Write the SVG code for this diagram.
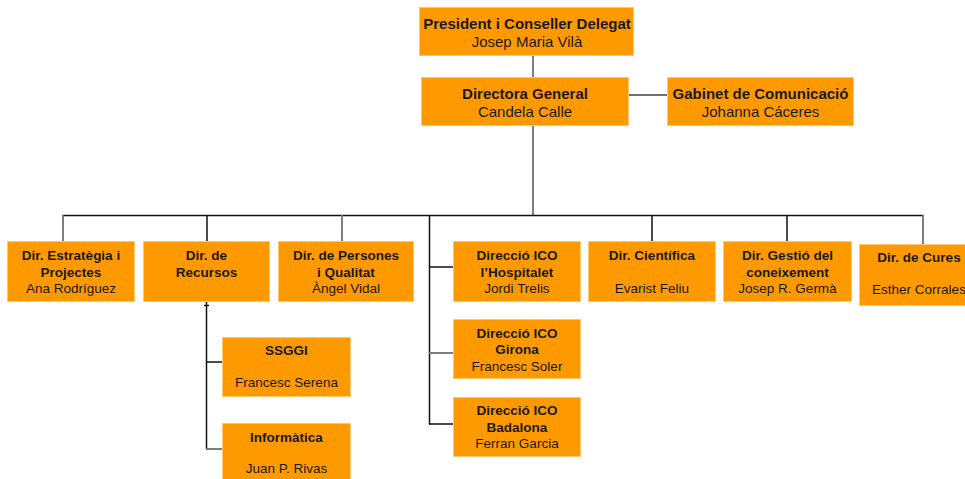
<svg xmlns="http://www.w3.org/2000/svg" width="965" height="479" viewBox="0 0 965 479">
<style>
.box{fill:#FF9900;stroke:#FFC870;stroke-width:1}
text{font-family:"Liberation Sans",Arial,sans-serif;fill:#1a1a1a;text-anchor:middle}
.t{font-size:15px}
.s{font-size:13.5px}
.b{font-weight:bold}
.k{stroke:#111;stroke-width:1.5;fill:none}
.g{stroke:#707070;stroke-width:1.8;fill:none}
</style>
<rect width="965" height="479" fill="#fff"/>
<g id="connectors">
<line class="g" x1="533" y1="56" x2="533" y2="77"/>
<line class="g" x1="629" y1="95" x2="667" y2="95"/>
<line class="g" x1="533" y1="126" x2="533" y2="215"/>
<line class="k" x1="62.5" y1="215.5" x2="923.5" y2="215.5"/>
<line class="g" x1="63" y1="215" x2="63" y2="241"/>
<line class="k" x1="207" y1="215" x2="207" y2="241"/>
<line class="g" x1="342" y1="215" x2="342" y2="241"/>
<line class="k" x1="652" y1="215" x2="652" y2="241"/>
<line class="k" x1="787" y1="215" x2="787" y2="241"/>
<line class="g" x1="923" y1="215" x2="923" y2="244"/>
<line class="k" x1="429.5" y1="215" x2="429.5" y2="424.5"/>
<line class="k" x1="429" y1="267" x2="453" y2="267"/>
<line class="g" x1="429" y1="353" x2="453" y2="353"/>
<line class="k" x1="429" y1="424" x2="453" y2="424"/>
<line class="k" x1="206.5" y1="302" x2="206.5" y2="449"/>
<line class="k" x1="204" y1="305.5" x2="209" y2="305.5"/>
<line class="k" x1="206" y1="362" x2="222" y2="362"/>
<line class="g" x1="206" y1="449" x2="222" y2="449"/>
</g>
<g id="president">
<rect class="box" x="419.5" y="7.5" width="214" height="48"/>
<text class="t b" x="527" y="29">President i Conseller Delegat</text>
<text class="t" x="527" y="47">Josep Maria Vilà</text>
</g>
<g id="directora">
<rect class="box" x="421.5" y="77.5" width="207" height="48"/>
<text class="t b" x="525" y="99">Directora General</text>
<text class="t" x="525" y="117">Candela Calle</text>
</g>
<g id="gabinet">
<rect class="box" x="667.5" y="77.5" width="186" height="48"/>
<text class="t b" x="760.5" y="99">Gabinet de Comunicació</text>
<text class="t" x="760.5" y="117">Johanna Cáceres</text>
</g>
<g id="estrategia">
<rect class="box" x="7.5" y="241.5" width="127" height="60"/>
<text class="s b" x="71" y="260">Dir. Estratègia i</text>
<text class="s b" x="71" y="277">Projectes</text>
<text class="s" x="71" y="293">Ana Rodríguez</text>
</g>
<g id="recursos">
<rect class="box" x="143.5" y="241.5" width="126" height="60"/>
<text class="s b" x="206.5" y="260">Dir. de</text>
<text class="s b" x="206.5" y="277">Recursos</text>
</g>
<g id="persones">
<rect class="box" x="278.5" y="241.5" width="135" height="60"/>
<text class="s b" x="346" y="260">Dir. de Persones</text>
<text class="s b" x="346" y="277">i Qualitat</text>
<text class="s" x="346" y="293">Àngel Vidal</text>
</g>
<g id="hospitalet">
<rect class="box" x="453.5" y="241.5" width="127" height="60"/>
<text class="s b" x="517" y="260">Direcció ICO</text>
<text class="s b" x="517" y="277">l’Hospitalet</text>
<text class="s" x="517" y="293">Jordi Trelis</text>
</g>
<g id="cientifica">
<rect class="box" x="588.5" y="241.5" width="127" height="60"/>
<text class="s b" x="652" y="260">Dir. Científica</text>
<text class="s" x="652" y="293">Evarist Feliu</text>
</g>
<g id="gestio">
<rect class="box" x="723.5" y="241.5" width="128" height="60"/>
<text class="s b" x="787.5" y="260">Dir. Gestió del</text>
<text class="s b" x="787.5" y="277">coneixement</text>
<text class="s" x="787.5" y="293">Josep R. Germà</text>
</g>
<g id="cures">
<rect class="box" x="859.5" y="244.5" width="120" height="61"/>
<text class="s b" x="919" y="262">Dir. de Cures</text>
<text class="s" x="919" y="294">Esther Corrales</text>
</g>
<g id="ssggi">
<rect class="box" x="222.5" y="337.5" width="128" height="59"/>
<text class="s b" x="286.5" y="355">SSGGI</text>
<text class="s" x="286.5" y="387">Francesc Serena</text>
</g>
<g id="informatica">
<rect class="box" x="222.5" y="423.5" width="128" height="59"/>
<text class="s b" x="286.5" y="442">Informàtica</text>
<text class="s" x="286.5" y="473">Juan P. Rivas</text>
</g>
<g id="girona">
<rect class="box" x="453.5" y="319.5" width="127" height="59"/>
<text class="s b" x="517" y="338">Direcció ICO</text>
<text class="s b" x="517" y="354">Girona</text>
<text class="s" x="517" y="371">Francesc Soler</text>
</g>
<g id="badalona">
<rect class="box" x="453.5" y="397.5" width="127" height="59"/>
<text class="s b" x="517" y="415">Direcció ICO</text>
<text class="s b" x="517" y="432">Badalona</text>
<text class="s" x="517" y="448">Ferran Garcia</text>
</g>
</svg>
